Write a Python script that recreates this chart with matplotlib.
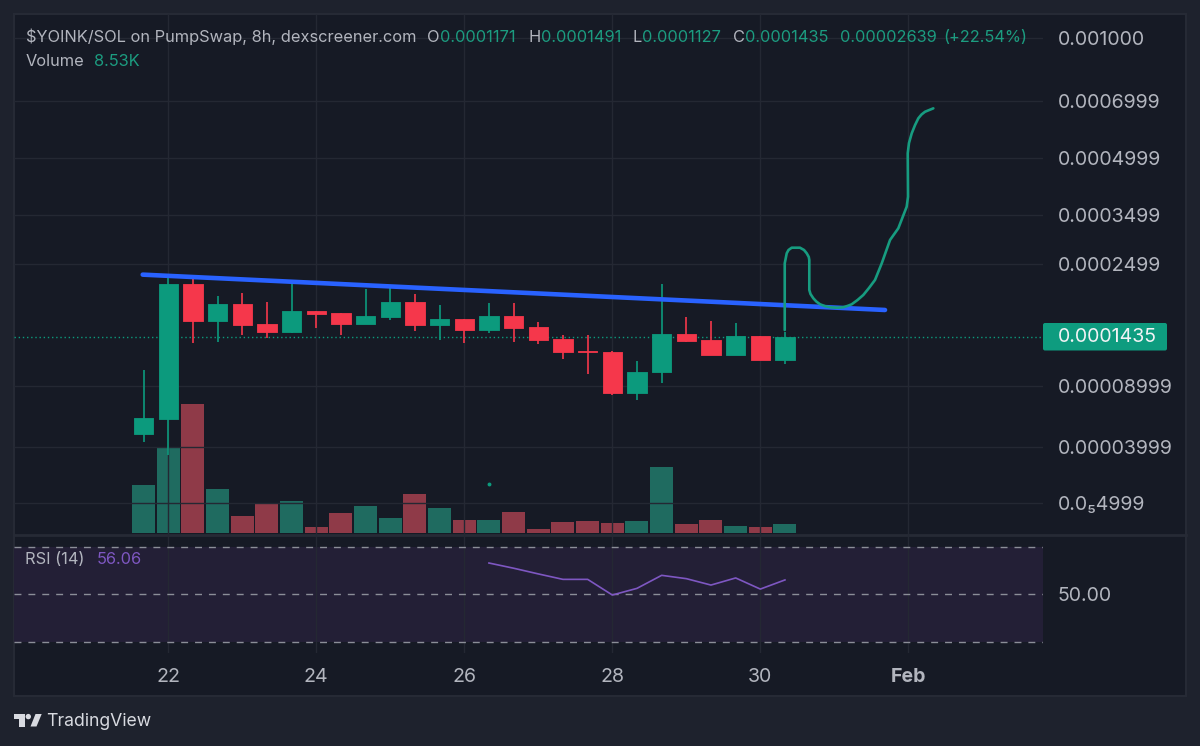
import matplotlib

matplotlib.use("Agg")
import matplotlib.pyplot as plt
import numpy as np
from matplotlib.patches import Circle, FancyBboxPatch, Polygon

W, H = 1200, 746

# prices are in units of 1e-6 SOL, time is day of January
days = [21.667, 22, 22.333, 22.667, 23, 23.333, 23.667, 24, 24.333, 24.667, 25, 25.333, 25.667, 26,
        26.333, 26.667, 27, 27.333, 27.667, 28, 28.333, 28.667, 29, 29.333, 29.667, 30, 30.333]
opens = [47.4, 58.1, 214.7, 162.4, 184.4, 158.4, 149.4, 175.3, 171.8, 158.4, 167.1, 187.7, 157.6, 164.9,
         151.7, 168.0, 154.8, 140.6, 127.3, 125.9, 81.7, 103.9, 146.8, 139.4, 122.6, 144.3, 117.1]
highs = [106.0, 227.0, 224.8, 196.5, 200.1, 187.7, 218.5, 175.3, 171.8, 206.7, 207.8, 198.5, 183.0, 164.9,
         185.4, 185.4, 160.8, 145.4, 145.4, 126.8, 115.9, 214.3, 167.5, 162.1, 159.3, 144.6, 149.1]
lows = [42.9, 29.7, 135.9, 137.0, 145.4, 142.6, 148.3, 153.7, 145.4, 158.4, 162.9, 150.2, 139.8, 136.5,
        148.3, 137.0, 135.3, 118.4, 102.1, 79.5, 75.0, 92.5, 137.7, 122.6, 122.6, 117.1, 112.7]
closes = [58.6, 214.7, 162.4, 184.4, 157.2, 149.4, 175.3, 170.9, 158.4, 168.0, 187.7, 157.2, 164.9, 151.7,
          168.0, 154.0, 139.8, 126.2, 126.2, 81.7, 104.2, 146.8, 138.9, 122.6, 144.6, 117.1, 143.5]
volumes = [43.4, 76.7, 116.3, 39.8, 15.8, 26.8, 29.3, 6.1, 18.7, 25.0, 13.7, 35.3, 22.7, 11.9,
           12.4, 18.9, 4.3, 10.1, 11.3, 9.5, 11.3, 60.1, 8.6, 11.9, 6.8, 6.1, 8.53]

rsi_days = days[14:]
rsi_values = [63.2, 61.0, 58.6, 56.3, 56.3, 49.7, 52.5, 58.0, 56.6, 53.9, 56.9, 52.2, 56.06]

trend_days = [21.654, 31.685]
trend_prices = [230.5, 176.2]

drawn_days = [30.33, 30.33, 30.357, 30.381, 30.424, 30.536, 30.591, 30.627, 30.655, 30.662, 30.662, 30.678,
              30.716, 30.759, 30.807, 30.874, 30.942, 31.036, 31.122, 31.178, 31.235, 31.314, 31.392,
              31.469, 31.55, 31.641, 31.753, 31.865, 31.978, 31.996, 31.992, 32.009, 32.046, 32.091,
              32.135, 32.178, 32.226, 32.338]
drawn_prices = [151.3, 251.1, 269.0, 275.1, 279.5, 279.5, 275.1, 269.0, 262.2, 256.9, 205.2, 199.0,
                192.6, 187.7, 184.0, 181.4, 179.9, 179.2, 179.9, 181.7, 184.0, 190.1, 197.5,
                208.3, 221.4, 251.1, 294.7, 319.4, 368.6, 392.4, 513.9, 546.1, 578.3, 607.3,
                631.8, 646.2, 656.9, 670.2]

# price axis of the chart is neither log nor linear, so pin it to the tick positions
price_ticks = [999.9, 699.9, 499.9, 349.9, 249.9, 89.99, 39.99, 4.999]
price_labels = ["0.001000", "0.0006999", "0.0004999", "0.0003499", "0.0002499",
                "0.00008999", "0.00003999", "0.0\u20854999"]
scale_prices = np.array([1.5, 4.999, 39.99, 89.99, 117.1, 143.5, 249.9, 349.9, 499.9, 699.9, 999.9, 1150.0])
scale_pos = np.array([535, 503, 447, 386, 360.3, 337, 264, 215, 158, 101, 38, 14.0])

day_ticks = [22, 24, 26, 28, 30, 32]
day_labels = ["22", "24", "26", "28", "30", "Feb"]

BG = "#1e222d"
PANE = "#161a25"
BORDER = "#262a35"
GRID = "#242833"
GREEN = "#0c9a7d"
RED = "#f5374b"
VOL_GREEN = "#1f6b60"
VOL_RED = "#8f3a48"
TEXT = "#b2b5be"
TEXT_GREEN = "#1c9c80"
BLUE = "#2962ff"
PURPLE = "#7e57c2"
FONT = "Inter"

plt.rcParams["font.family"] = [FONT, "DejaVu Sans"]


def pixel_box(left, top, right, bottom):
    return [left / W, 1 - bottom / H, (right - left) / W, (bottom - top) / H]


def to_pos(price):
    return -np.interp(np.log(np.maximum(price, 1e-3)), np.log(scale_prices), scale_pos)


def to_price(pos):
    return np.exp(np.interp(-np.asarray(pos), -scale_pos, np.log(scale_prices)))


def px_text(fig, x, y, s, **kwargs):
    kwargs.setdefault("va", "center")
    kwargs.setdefault("fontsize", 11.8)
    fig.text(x / W, 1 - y / H, s, **kwargs)


def main() -> None:
    fig = plt.figure(figsize=(W / 100, H / 100), dpi=100, facecolor=BG)

    # overlay in pixel coordinates for the frame and the logo
    frame = fig.add_axes([0, 0, 1, 1], zorder=0)
    frame.set_xlim(0, W)
    frame.set_ylim(H, 0)
    frame.axis("off")
    frame.add_patch(plt.Rectangle((14, 14), 1172, 682, fc=PANE, ec=BORDER, lw=1.5))
    frame.plot([14, 1186], [535, 535], color=BORDER, lw=2)
    frame.add_patch(Polygon([(14, 714), (24.5, 714), (24.5, 726.5), (19, 726.5), (19, 719), (14, 719)], fc="#d8dae0"))
    frame.add_patch(Circle((28.3, 716.6), 2.7, fc="#d8dae0"))
    frame.add_patch(Polygon([(35.5, 714), (41.7, 714), (36.5, 726.5), (30.5, 726.5)], fc="#d8dae0"))

    # volume sits under the candles
    ax_vol = fig.add_axes(pixel_box(14, 14, 1043, 535), zorder=1)
    ax_vol.patch.set_visible(False)
    ax_vol.set_xlim(19.915, 33.82)
    ax_vol.set_ylim(-1.35, 466.5)
    ax_vol.axis("off")
    vol_colors = [VOL_GREEN if c >= o else VOL_RED for o, c in zip(opens, closes)]
    ax_vol.bar(days, volumes, width=0.31, color=vol_colors, linewidth=0)

    ax = fig.add_axes(pixel_box(14, 14, 1043, 535), zorder=2)
    ax.patch.set_visible(False)
    ax.set_xlim(19.915, 33.82)
    ax.set_yscale("function", functions=(to_pos, to_price))
    ax.set_ylim(1.5, 1150)
    ax.yaxis.tick_right()
    ax.set_yticks(price_ticks)
    ax.set_yticklabels(price_labels, fontsize=14.1, color=TEXT)
    ax.yaxis.set_minor_locator(matplotlib.ticker.NullLocator())
    ax.set_xticks(day_ticks)
    ax.tick_params(axis="both", length=0, labelbottom=False, pad=10.4)
    ax.grid(True, color=GRID, lw=1)
    ax.set_axisbelow(True)
    for spine in ax.spines.values():
        spine.set_visible(False)

    ax.axhline(143.5, color=GREEN, lw=1, ls=(0, (1, 2)), zorder=1.5)

    for day, o, h, l, c in zip(days, opens, highs, lows, closes):
        color = GREEN if c >= o else RED
        ax.plot([day, day], [l, h], color=color, lw=1.2, solid_capstyle="butt", zorder=3)
        ax.fill_between([day - 0.132, day + 0.132], min(o, c), max(o, c), color=color, lw=0.6, zorder=3)

    ax.plot(trend_days, trend_prices, color=BLUE, lw=3.3, solid_capstyle="round", zorder=4)
    ax.plot(drawn_days, drawn_prices, color="#179c80", lw=1.9, solid_joinstyle="round", solid_capstyle="round", zorder=5)
    ax.plot([26.33], [10.1], marker="o", ms=1.8, color=GREEN, zorder=3)

    ax_rsi = fig.add_axes(pixel_box(14, 535, 1043, 653), zorder=2)
    ax_rsi.patch.set_visible(False)
    ax_rsi.set_xlim(19.915, 33.82)
    ax_rsi.set_ylim(25.23, 75.02)
    ax_rsi.axhspan(30, 70, color="#231f36", lw=0, zorder=0)
    for level in (30, 50, 70):
        ax_rsi.axhline(level, color="#8b8e98", lw=1, ls=(0, (5, 5)), zorder=1)
    ax_rsi.plot(rsi_days, rsi_values, color=PURPLE, lw=1.2, zorder=3)
    ax_rsi.set_xticks(day_ticks)
    ax_rsi.set_xticklabels(day_labels, fontsize=14.1, color=TEXT)
    ax_rsi.get_xticklabels()[-1].set_fontweight("bold")
    ax_rsi.yaxis.tick_right()
    ax_rsi.set_yticks([50])
    ax_rsi.set_yticklabels(["50.00"], fontsize=14.1, color=TEXT)
    ax_rsi.tick_params(axis="y", length=0, pad=10.4)
    ax_rsi.tick_params(axis="x", length=0, pad=11)
    ax_rsi.grid(True, axis="x", color=GRID, lw=1)
    ax_rsi.set_axisbelow(True)
    for spine in ax_rsi.spines.values():
        spine.set_visible(False)

    # last price tag
    frame.add_patch(FancyBboxPatch((1043, 323), 124, 27.5, boxstyle="round,pad=0,rounding_size=2", fc="#0e9c7f", ec="none"))
    px_text(fig, 1058, 337, "0.0001435", color="#f2f3f5", fontsize=14.1)

    # legend line, each piece placed where the chart has it
    px_text(fig, 25.6, 37, "$YOINK/SOL on PumpSwap, 8h, dexscreener.com", color=TEXT)
    for x, s, color in [(426.7, "O", TEXT), (440, "0.0001171", TEXT_GREEN), (528, "H", TEXT), (540.8, "0.0001491", TEXT_GREEN),
                        (633, "L", TEXT), (642, "0.0001127", TEXT_GREEN), (733, "C", TEXT), (745.4, "0.0001435", TEXT_GREEN),
                        (840.3, "0.00002639", TEXT_GREEN), (943.7, "(+22.54%)", TEXT_GREEN)]:
        px_text(fig, x, 37, s, color=color)
    px_text(fig, 25.6, 61, "Volume", color=TEXT)
    px_text(fig, 93.8, 61, "8.53K", color=TEXT_GREEN)
    px_text(fig, 25, 559, "RSI (14)", color=TEXT)
    px_text(fig, 97, 559, "56.06", color=PURPLE)
    px_text(fig, 46.5, 722, "TradingView", color="#d8dae0", fontsize=12.7)

    fig.savefig("out.png", dpi=100, facecolor=BG)
    plt.close(fig)


if __name__ == "__main__":
    main()
